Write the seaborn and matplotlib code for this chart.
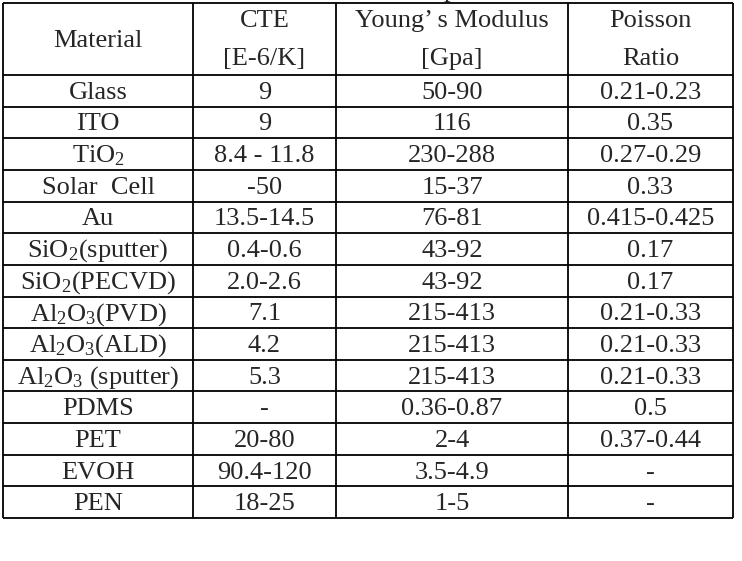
import matplotlib
matplotlib.use("Agg")
import matplotlib.pyplot as plt
import seaborn as sns

# table contents
header_top = ["Material", "CTE", "Young\u2019 s Modulus", "Poisson"]
header_bottom = ["", "[E-6/K]", "[Gpa]", "Ratio"]

materials = ["Glass", "ITO", r"TiO$\mathregular{_2}$", "Solar  Cell", "Au",
             r"SiO$\mathregular{_2}$(sputter)", r"SiO$\mathregular{_2}$(PECVD)",
             r"Al$\mathregular{_2}$O$\mathregular{_3}$(PVD)",
             r"Al$\mathregular{_2}$O$\mathregular{_3}$(ALD)",
             r"Al$\mathregular{_2}$O$\mathregular{_3}$ (sputter)",
             "PDMS", "PET", "EVOH", "PEN"]
cte = ["9", "9", "8.4 - 11.8", "-50", "13.5-14.5", "0.4-0.6", "2.0-2.6",
       "7.1", "4.2", "5.3", "-", "20-80", "90.4-120", "18-25"]
youngs = ["50-90", "116", "230-288", "15-37", "76-81", "43-92", "43-92",
          "215-413", "215-413", "215-413", "0.36-0.87", "2-4", "3.5-4.9", "1-5"]
poisson = ["0.21-0.23", "0.35", "0.27-0.29", "0.33", "0.415-0.425", "0.17",
           "0.17", "0.21-0.33", "0.21-0.33", "0.21-0.33", "0.5", "0.37-0.44",
           "-", "-"]

sns.set_theme(style="white")
plt.rcParams['font.family'] = ['Liberation Serif', 'DejaVu Serif']
plt.rcParams['mathtext.fontset'] = 'custom'
plt.rcParams['mathtext.rm'] = 'Liberation Serif'

fig = plt.figure(figsize=(7.42, 5.61), dpi=100)
ax = fig.add_axes([0, 0, 1, 1])
ax.set_xlim(0, 742)
ax.set_ylim(561, 0)
ax.axis("off")

col_edges = [3, 193, 336, 568, 733]
top, head_bottom, bottom = 3, 75, 518
n = len(materials)
row_h = (bottom - head_bottom) / n
lw = 1.3
fs = 19
dy = 2  # push text down a little inside its cell

# grid
ax.vlines(col_edges, top, bottom, color="black", lw=lw)
ax.hlines([top, head_bottom], col_edges[0], col_edges[-1], color="black", lw=lw)
for i in range(1, n + 1):
    ax.hlines(head_bottom + i * row_h, col_edges[0], col_edges[-1], color="black", lw=lw)

centers = [(col_edges[j] + col_edges[j + 1]) / 2 for j in range(4)]

# header
for j in range(4):
    if header_bottom[j]:
        ax.text(centers[j], 19 + dy, header_top[j], ha="center", va="center", fontsize=fs)
        ax.text(centers[j], 57 + dy, header_bottom[j], ha="center", va="center", fontsize=fs)
    else:
        ax.text(centers[j], 39 + dy, header_top[j], ha="center", va="center", fontsize=fs)

# body
for i, row in enumerate(zip(materials, cte, youngs, poisson)):
    y = head_bottom + (i + 0.5) * row_h + dy
    for j, val in enumerate(row):
        ax.text(centers[j], y, val, ha="center", va="center", fontsize=fs)

# fragment of the caption cut off above the table
ax.text(450, -3, "p", ha="center", va="baseline", fontsize=fs)

fig.savefig("out.png", dpi=100, facecolor="white")
